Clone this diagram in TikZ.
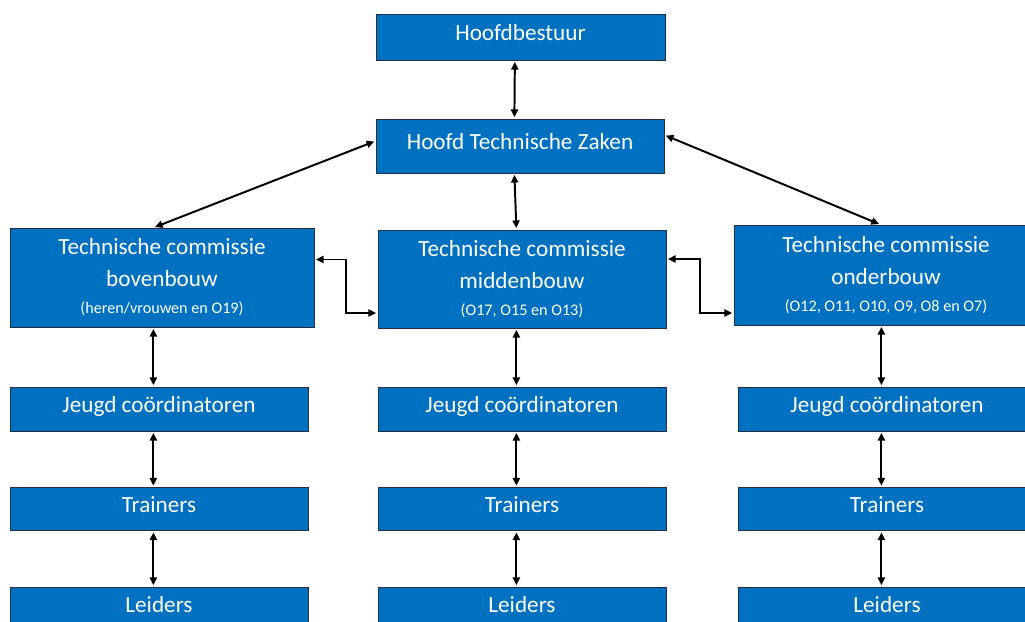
\documentclass[tikz,border=0pt]{standalone}
\usepackage{fontspec}
\setmainfont{Carlito}
\usepackage{tikz}
\usetikzlibrary{arrows.meta, positioning, calc}
\definecolor{boxBlue}{RGB}{0, 112, 192}
\definecolor{boxEdge}{RGB}{36, 48, 66}
\newcommand{\subtxt}{\fontsize{11.5}{14}\selectfont}

\begin{document}
\begin{tikzpicture}[x=0.025cm, y=-0.025cm,
    orgbox/.style={draw=boxEdge, fill=boxBlue, line width=0.6pt, text=white, align=center,
        inner sep=0pt, font=\fontsize{16.5}{22.5}\selectfont},
    linebox/.style={orgbox, text depth=6pt},
    link/.style={line width=1.4pt, {Triangle[length=5.5pt,width=5pt]}-{Triangle[length=5.5pt,width=5pt]},
        shorten <=1pt, shorten >=1pt}]
    \useasboundingbox (0,0) rectangle (1025,621);
    \clip (0,0) rectangle (1025,621);

    % Top of the organisation
    \node[linebox, minimum width={289*0.025cm}, minimum height={46*0.025cm}] (hb) at (520.5,37) {Hoofdbestuur};
    \node[linebox, minimum width={288*0.025cm}, minimum height={54*0.025cm}] (htz) at (520,146) {Hoofd Technische Zaken};

    % Technical committees
    \node[orgbox, minimum width={304*0.025cm}, minimum height={99*0.025cm}] (tcb) at (162,277.5)
        {Technische commissie\\bovenbouw\\[-3pt]{\subtxt (heren/vrouwen en O19)}};
    \node[orgbox, minimum width={288*0.025cm}, minimum height={98*0.025cm}] (tcm) at (522,279)
        {Technische commissie\\middenbouw\\[-3pt]{\subtxt (O17, O15 en O13)}};
    \node[orgbox, minimum width={304*0.025cm}, minimum height={100*0.025cm}] (tco) at (886,275)
        {Technische commissie\\onderbouw\\[-3pt]{\subtxt (O12, O11, O10, O9, O8 en O7)}};

    % Columns below each committee
    \foreach \col/\x/\w in {b/159/298, m/522/288, o/887/298} {
        \node[linebox, minimum width={\w*0.025cm}, minimum height={44*0.025cm}] (jeugd\col) at (\x,409) {Jeugd coördinatoren};
        \node[linebox, minimum width={\w*0.025cm}, minimum height={43*0.025cm}] (trainers\col) at (\x,509) {Trainers};
        \node[linebox, minimum width={\w*0.025cm}, minimum height={44*0.025cm}] (leiders\col) at (\x,609) {Leiders};
    }

    % Connectors
    \draw[link] ([xshift=-4pt]hb.south) -- ([xshift=-4pt]htz.north);
    \draw[link] ([xshift=-4pt]htz.south) -- ([xshift=-4pt]tcm.north);
    \draw[link] ($(htz.west)+(0,-5)$) -- ([xshift=-6pt]tcb.north);
    \draw[link] ($(htz.east)+(0,-11)$) -- ([xshift=-4pt]tco.north);
    \draw[link] ($(tcb.east)+(0,-18)$) -- ++(32,0) |- ($(tcm.west)+(0,34)$);
    \draw[link] ($(tcm.east)+(0,-20)$) -- ++(34,0) |- ($(tco.west)+(0,38)$);

    \foreach \col in {b,m,o} {
        \draw[link] ([xshift=-4pt]jeugd\col.north |- tc\col.south) -- ([xshift=-4pt]jeugd\col.north);
        \draw[link] ([xshift=-4pt]jeugd\col.south) -- ([xshift=-4pt]trainers\col.north);
        \draw[link] ([xshift=-4pt]trainers\col.south) -- ([xshift=-4pt]leiders\col.north);
    }

\end{tikzpicture}
\end{document}
